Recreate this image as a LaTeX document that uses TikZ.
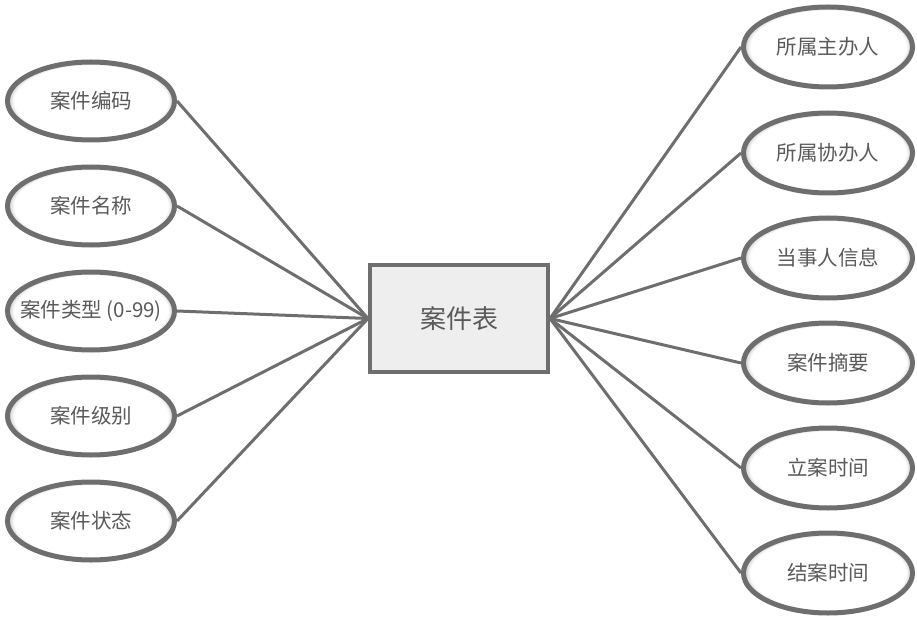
\documentclass[tikz,border=0pt]{standalone}
\usepackage{fontspec}
\newfontfamily\cjk{Noto Sans CJK SC}
\usepackage{tikz}
\usetikzlibrary{shapes.geometric}

\definecolor{edgegray}{HTML}{6E6E6E}
\definecolor{txtgray}{HTML}{5A5A5A}
\definecolor{boxfill}{HTML}{EEEEEE}
\pgfdeclareradialshading{ringglow}{\pgfpoint{0bp}{0bp}}{%
  color(0bp)=(white); color(23bp)=(white); color(25bp)=(gray!45); color(50bp)=(gray!45)}

\begin{document}
\begin{tikzpicture}[x=1pt, y=-1pt,
      attr/.style={ellipse, draw=edgegray, line width=5pt, shade, shading=ringglow,
                   minimum width=167pt, minimum height=78pt, inner sep=0pt,
                   font=\cjk\fontsize{20.5}{24}\selectfont, text=txtgray},
      ent/.style={rectangle, draw=edgegray, line width=4pt, fill=boxfill,
                  minimum width=178pt, minimum height=107pt, inner sep=0pt,
                  font=\cjk\fontsize{26}{30}\selectfont, text=txtgray},
      link/.style={draw=edgegray, line width=3pt}]

    \useasboundingbox (0,0) rectangle (917,636);

    % Entity
    \node[ent] (anjian) at (459,318.5) {案件表};

    % Left attributes
    \node[attr] (bianma)    at (91,101) {案件编码};
    \node[attr] (mingcheng) at (91,206) {案件名称};
    \node[attr] (leixing)   at (91,311) {\makebox[0pt]{案件类型 (0-99)}};
    \node[attr] (jibie)     at (91,416) {案件级别};
    \node[attr] (zhuangtai) at (91,521) {案件状态};

    % Right attributes
    \node[attr, minimum width=169pt, minimum height=80pt] (zhuban)     at (828,47)  {所属主办人};
    \node[attr, minimum width=169pt, minimum height=80pt] (xieban)     at (828,153) {所属协办人};
    \node[attr, minimum width=169pt, minimum height=80pt] (dangshiren) at (828,258) {当事人信息};
    \node[attr, minimum width=169pt, minimum height=80pt] (zhaiyao)    at (828,363) {案件摘要};
    \node[attr, minimum width=169pt, minimum height=80pt] (lian)       at (828,468) {立案时间};
    \node[attr, minimum width=169pt, minimum height=80pt] (jiean)      at (828,573) {结案时间};

    % Links
    \foreach \a in {bianma, mingcheng, leixing, jibie, zhuangtai}
        \path[link] (\a.east) -- (anjian.west);
    \foreach \a in {zhuban, xieban, dangshiren, zhaiyao, lian, jiean}
        \path[link] (anjian.east) -- (\a.west);

\end{tikzpicture}
\end{document}
